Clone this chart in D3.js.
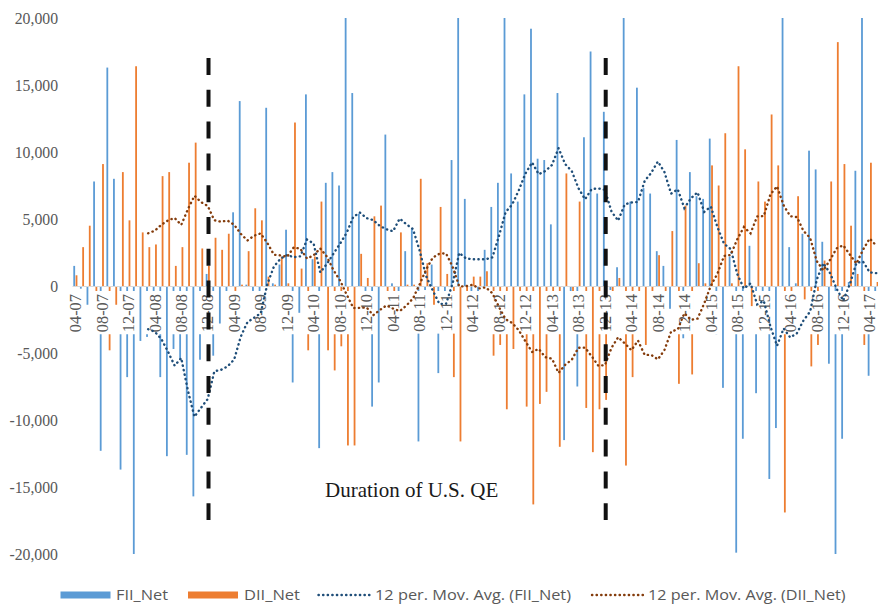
<!DOCTYPE html>
<html><head><meta charset="utf-8">
<script src="https://cdn.jsdelivr.net/npm/d3@7"></script>
<style>body{margin:0;background:#fff} svg{display:block}</style>
</head><body><svg id="c" width="878" height="604"></svg>
<script>
// ---------- DATA ----------
const months = [
 "04-07","05-07","06-07","07-07","08-07","09-07","10-07","11-07","12-07","01-08","02-08","03-08",
 "04-08","05-08","06-08","07-08","08-08","09-08","10-08","11-08","12-08","01-09","02-09","03-09",
 "04-09","05-09","06-09","07-09","08-09","09-09","10-09","11-09","12-09","01-10","02-10","03-10",
 "04-10","05-10","06-10","07-10","08-10","09-10","10-10","11-10","12-10","01-11","02-11","03-11",
 "04-11","05-11","06-11","07-11","08-11","09-11","10-11","11-11","12-11","01-12","02-12","03-12",
 "04-12","05-12","06-12","07-12","08-12","09-12","10-12","11-12","12-12","01-13","02-13","03-13",
 "04-13","05-13","06-13","07-13","08-13","09-13","10-13","11-13","12-13","01-14","02-14","03-14",
 "04-14","05-14","06-14","07-14","08-14","09-14","10-14","11-14","12-14","01-15","02-15","03-15",
 "04-15","05-15","06-15","07-15","08-15","09-15","10-15","11-15","12-15","01-16","02-16","03-16",
 "04-16","05-16","06-16","07-16","08-16","09-16","10-16","11-16","12-16","01-17","02-17","03-17",
 "04-17","05-17"];
const fiiNet = [
 1500,-200,-1400,7800,-12300,16300,8000,-13700,-6800,-30000,-4100,-3800,
 -700,-6800,-12700,-4700,-5500,-12600,-15700,-5500,900,-5200,-2800,-700,
 5500,13800,100,-700,-1500,13300,200,1600,4200,-7200,-2000,14300,
 2000,-12100,7700,8500,7500,23000,14400,5400,-700,-9000,-7200,11300,
 200,-700,2600,4300,-11600,-300,1600,-6500,-700,9400,20000,6500,
 -700,-700,2700,5900,7700,21000,8400,6300,14300,19200,9500,9400,
 4600,14400,-11500,-500,-7500,11100,17500,6900,13000,-300,1400,24000,
 6300,14800,7300,6900,2600,1500,-1700,10900,-3900,8500,6700,6500,
 11000,-3600,-7600,2200,-19900,-11400,3000,-8000,-700,-14400,-10600,22000,
 2900,200,3900,10100,8700,3300,-5800,-22000,-11400,300,8600,23000,
 -6700,-500];
const diiNet = [
 800,2900,4500,-600,9100,-4800,-1400,8500,4900,16400,4000,2900,
 3100,8200,8500,1500,2900,9200,10700,2800,1500,3600,2700,3900,
 -700,100,2600,5800,4900,700,100,2200,200,12200,1300,-4800,
 2200,6300,-4800,-6300,-4500,-11900,-11900,2400,600,5200,6000,-700,
 -600,4000,100,100,8000,1700,-1400,5900,900,-6800,-11600,-500,
 700,700,1100,-5200,-4400,-9200,-4700,-700,-9000,-16300,-8800,-7900,
 -700,-12000,8400,-700,6300,-9100,-12400,-9200,-8500,-700,600,-13400,
 -6800,-3400,-4400,-700,2300,-700,4100,-7300,6000,-6600,1700,200,
 9000,7500,11400,200,16400,10200,-1500,7800,6300,12800,9000,-16900,
 -700,6700,-1000,-6000,-4400,1900,7800,18200,9100,4500,900,-4400,
 9200,300];
const yTicks = [-20000,-15000,-10000,-5000,0,5000,10000,15000,20000];
const xTickLabels = ["04-07","08-07","12-07","04-08","08-08","12-08","04-09","08-09","12-09",
 "04-10","08-10","12-10","04-11","08-11","12-11","04-12","08-12","12-12","04-13","08-13","12-13",
 "04-14","08-14","12-14","04-15","08-15","12-15","04-16","08-16","12-16","04-17"];
const qeMarks = ["12-08","12-13"];
const qeLabel = "Duration of U.S. QE";
const maPeriod = 12;
const legendLabels = ["FII_Net","DII_Net","12 per. Mov. Avg. (FII_Net)","12 per. Mov. Avg. (DII_Net)"];

// ---------- STYLE ----------
const C = {fii:"#5b9bd5", dii:"#ed7d31", fiiMA:"#1f4e79", diiMA:"#843c0c", text:"#595959"};
const W = 878;
const serif = "'Liberation Serif','Times New Roman',serif";
const svg = d3.select("#c");
const x = d3.scaleBand().domain(months).range([72, 72 + 6.62*months.length]);
const y = d3.scaleLinear().domain([-20000, 20000]).range([554, 18]);
const bw = x.bandwidth();
const cx = m => x(m) + bw/2;

svg.append("defs").append("clipPath").attr("id","plot")
  .append("rect").attr("x",72).attr("y",y(20000)).attr("width",W-72).attr("height",y(-20000)-y(20000));

// bars
const gb = svg.append("g").attr("clip-path","url(#plot)");
const barW = 1.8;
gb.selectAll("rect.fii").data(months).join("rect").attr("class","fii")
  .attr("x", m => cx(m) - 2.0).attr("width", barW)
  .attr("y", (m,i) => y(Math.max(0, fiiNet[i])))
  .attr("height", (m,i) => Math.abs(y(fiiNet[i]) - y(0)))
  .attr("fill", C.fii);
gb.selectAll("rect.dii").data(months).join("rect").attr("class","dii")
  .attr("x", m => cx(m) + 0.3).attr("width", barW)
  .attr("y", (m,i) => y(Math.max(0, diiNet[i])))
  .attr("height", (m,i) => Math.abs(y(diiNet[i]) - y(0)))
  .attr("fill", C.dii);

// zero axis with category labels (labels carry an opaque background, as in the original)
const xAxis = d3.axisBottom(x).tickValues(xTickLabels).tickSize(0).tickPadding(0);
const gx = svg.append("g").attr("transform",`translate(0,${y(0)})`).call(xAxis);
gx.select(".domain").attr("stroke","#d9d9d9").attr("stroke-width",1);
gx.selectAll("text")
  .attr("x",0).attr("y",0).attr("dy","0.35em")
  .attr("transform","translate(0,8) rotate(-90)")
  .attr("text-anchor","end")
  .attr("font-family",serif)
  .attr("font-size",16.4).attr("fill",C.text);
gx.selectAll(".tick").each(function(){
  const t = d3.select(this).select("text");
  const len = t.node().getComputedTextLength();
  d3.select(this).insert("rect","text").attr("x",-9.5).attr("y",5).attr("width",19).attr("height",len+5).attr("fill","#fff");
});

// y axis
const fmt = d3.formatLocale({decimal:".",thousands:",",grouping:[3],currency:["",""],minus:"-"}).format(",");
const gy = svg.append("g").attr("transform","translate(72,0)")
  .call(d3.axisLeft(y).tickValues(yTicks).tickSize(0).tickPadding(14).tickFormat(fmt));
gy.select(".domain").remove();
gy.selectAll("text").attr("font-family",serif).attr("font-size",15.75).attr("fill",C.text);

// moving averages
function movingAverage(v, p){ return v.map((d,i) => i < p-1 ? null : d3.mean(v.slice(i-p+1, i+1))); }
const line = d3.line().defined(d => d.v != null).x(d => cx(d.m)).y(d => y(d.v));
[[fiiNet, C.fiiMA],[diiNet, C.diiMA]].forEach(([vals,col]) => {
  const ma = movingAverage(vals, maPeriod).map((v,i) => ({m:months[i], v}));
  svg.append("path").datum(ma).attr("d", line).attr("fill","none")
    .attr("stroke", col).attr("stroke-width",2.4).attr("stroke-linecap","round")
    .attr("stroke-dasharray","0.3 4.3");
});

// QE markers
qeMarks.forEach(m => {
  svg.append("line").attr("x1", cx(m)+0.8).attr("x2", cx(m)+0.8)
    .attr("y1", 58).attr("y2", 520)
    .attr("stroke","#111").attr("stroke-width",4).attr("stroke-dasharray","17 14.8");
});
svg.append("text").attr("x",325).attr("y",497)
  .attr("font-family",serif).attr("font-size",21).attr("fill","#1a1a1a").text(qeLabel);

// legend
const ly = 595;
const lf = "'Liberation Sans Narrow','Open Sans',sans-serif";
const leg = svg.append("g");
const items = [
  {type:"rect", col:C.fii, sx:60.5, tx:116, tw:52},
  {type:"rect", col:C.dii, sx:188, tx:244, tw:56},
  {type:"line", col:C.fiiMA, sx:317.5, tx:375, tw:196},
  {type:"line", col:C.diiMA, sx:591, tx:648, tw:197.5}
];
items.forEach((it,i) => {
  if (it.type === "rect") {
    leg.append("rect").attr("x",it.sx).attr("y",ly-3.5).attr("width",50).attr("height",7).attr("fill",it.col);
  } else {
    leg.append("line").attr("x1",it.sx+1).attr("x2",it.sx+53).attr("y1",ly).attr("y2",ly)
      .attr("stroke",it.col).attr("stroke-width",2.4).attr("stroke-linecap","round").attr("stroke-dasharray","0.3 4.3");
  }
  leg.append("text").attr("x",it.tx).attr("y",ly).attr("dy","0.35em")
    .attr("font-family",lf).attr("font-size",14.5).attr("fill",C.text)
    .attr("textLength",it.tw).attr("lengthAdjust","spacingAndGlyphs")
    .text(legendLabels[i]);
});
</script></body></html>
